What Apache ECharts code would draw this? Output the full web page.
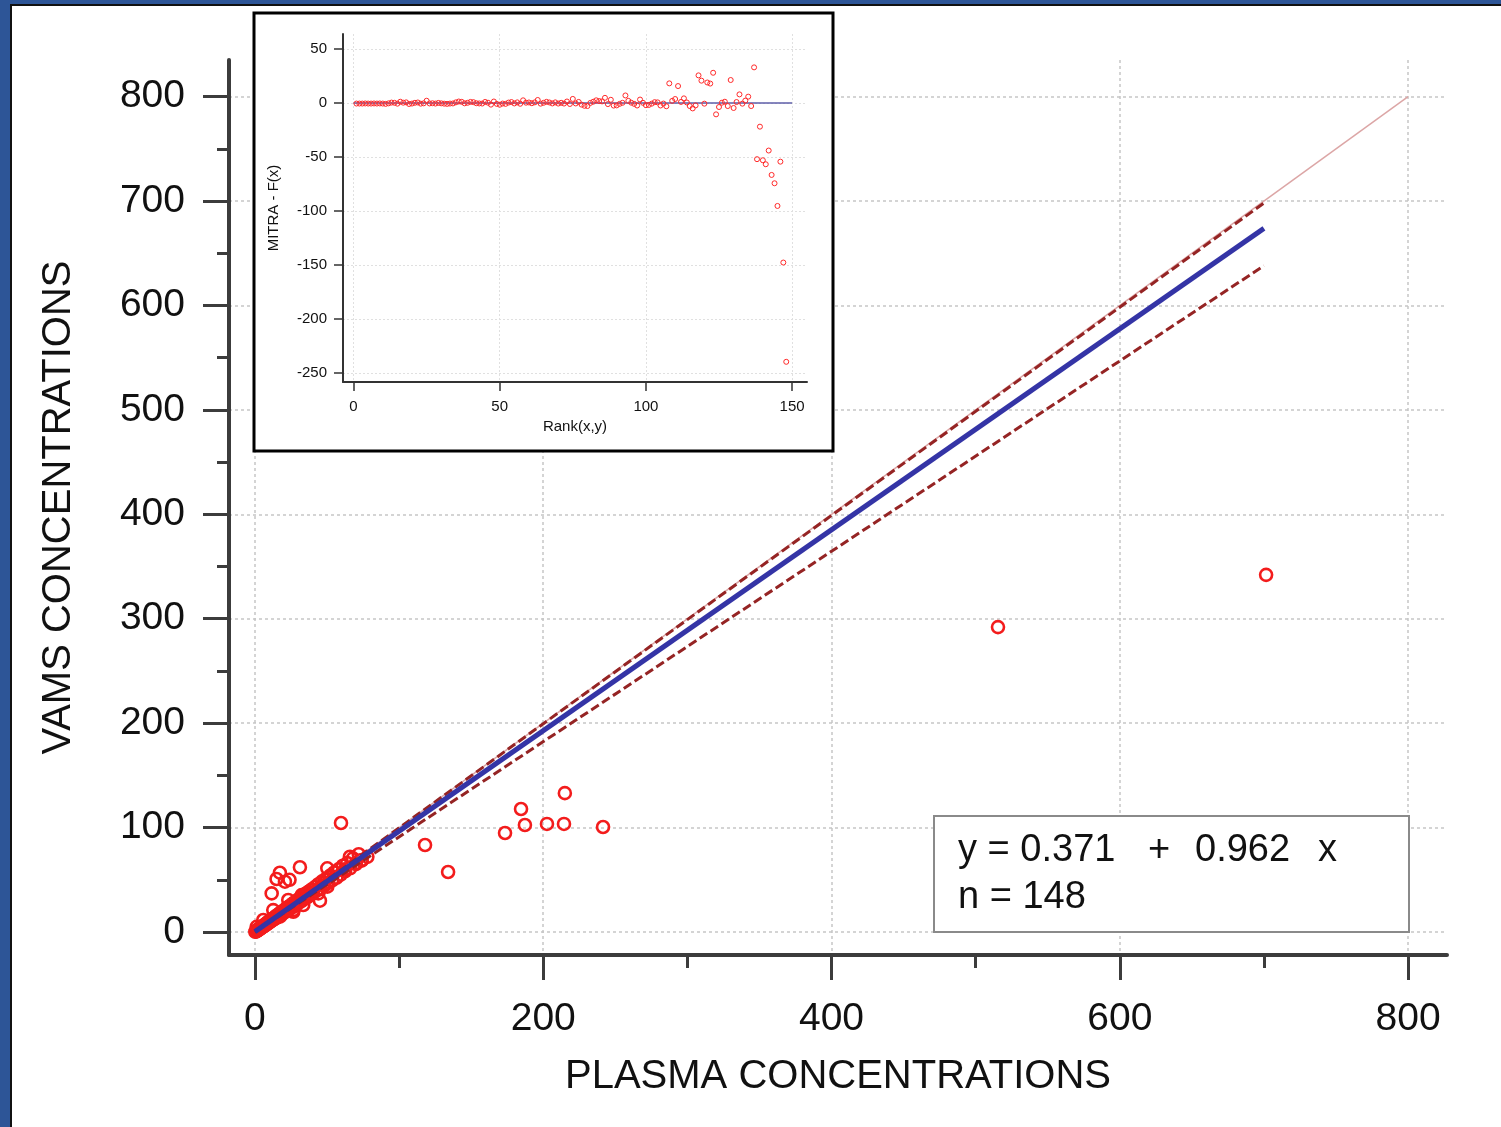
<!DOCTYPE html>
<html><head><meta charset="utf-8">
<script src="https://cdn.jsdelivr.net/npm/echarts@6/dist/echarts.min.js"></script>
<style>
html,body{margin:0;padding:0;width:1501px;height:1127px;overflow:hidden;background:#2d5597;}
#paper{position:absolute;left:10px;top:4px;right:0;bottom:0;background:#fff;border-left:2px solid #111;border-top:2px solid #111;}
#chart{position:absolute;left:0;top:0;width:1501px;height:1127px;}
</style></head><body>
<div id="paper"></div><div id="chart"></div>
<script>
const FONT = '"Liberation Sans", Arial, sans-serif';

// ---- main scatter: plasma (x) vs VAMS (y) ----
const plasmaValues = [
  515.5,701.5,59.7,118,134,173.5,184.6,187.3,202.6,214.4,215,241.5,
  31.2,17.3,15,20.8,24,11.6,50.2,65.9,74,62.4,50.2,45.1,39.3,33.5,26.6,26.6,23.1,12.7,17.3,5.8,1.2,32.4,44,48,52,70,78,
  0.5,0.8,1,1.2,1.5,1.7,2,2.2,2.5,2.8,
  3,3.2,3.5,3.8,4,4.3,4.6,5,5.3,5.6,
  6,6.3,6.7,7,7.4,7.8,8.2,8.6,9,9.4,
  9.8,10.2,10.6,11,11.5,12,12.5,13,13.5,14,
  14.5,15,15.6,16.2,16.8,17.4,18,18.6,19.2,19.8,
  20.4,21,21.7,22.4,23.1,23.8,24.5,25.2,26,26.8,
  27.6,28.4,29.2,30,31,32,33,34,35,36,
  37,38,39.2,40.4,41.6,42.8,44,45.3,46.6,48,
  49.4,50.8,52.2,53.6,55,56.5,58,59.5,61,62.5,
  64,66,68,70,72,74,1.4,4.8,0.3,
  2.4,3.6,5.8,7.6,9.6,11.8,13.8,16,19,22
];
const vamsValues = [
  292,342,104.4,83.3,57.5,94.8,117.8,102.5,103.5,103.5,133,100.6,
  62,56.8,50.8,48.2,50,37,61,72.1,68.3,60,43.4,30,40.2,25.9,19.4,21,30.7,21,14.7,11.5,5,35.4,37,47,53,66,72,
  0.6,0.7,1.1,1,1.6,1.5,2.1,1.9,2.6,2.5,
  3.2,2.9,3.6,3.4,4.2,3.9,4.7,4.6,5.5,5.2,
  6.3,5.8,6.9,6.5,7.6,7.2,8.5,7.9,9.2,8.7,
  10.3,9.4,11,10.2,11.8,11.1,13,12.1,13.8,12.8,
  15.2,13.9,16,15,17.5,16.1,18.8,17.2,19.9,18.1,
  21,19.6,22.5,20.5,24,22,25.3,23.1,27,24.6,
  28.5,26,30.3,27.8,32,29.5,34.2,31.2,36.5,33,
  38.5,35,40.6,37.2,43,39.6,45.8,41.5,48.5,44.2,
  51,47,54,49.5,57,52,60,55,63.5,58,
  66,61,70.5,65,74.5,69,1.3,4.9,0.2,
  2.3,3.5,5.6,7.3,9.3,11.4,13.3,15.4,18.3,21.2
];

// ---- fitted lines (end points) ----
const lineX = [0, 700];
const regressionY = [0.371, 673.8];
const upperBandY = [0, 698];
const lowerBandY = [0, 638];
const identityX = [0, 800];
const identityY = [0, 800];

// ---- inset: residuals by rank ----
const residuals = [
  -0.5,-0.5,-0.5,-0.4,-0.5,-0.5,-0.4,-0.5,-0.4,-0.5,
  -0.8,-0.3,0.4,0.2,-0.6,1.2,0.3,0.6,-0.9,-0.5,
  0.2,0.5,-0.6,-0.3,2.1,-0.4,-0.2,-0.5,0.1,-0.3,
  -0.6,-0.8,-0.5,-0.4,0.6,1.4,1.1,-0.3,0.2,1.0,
  0.8,-0.2,-0.4,-0.5,1.0,0.3,-1.5,1.4,-0.8,-1.6,
  -0.5,-0.8,0.4,0.9,-0.4,0.6,-0.7,2.5,0.3,0.5,
  -0.2,0.6,2.8,-0.6,0.2,1.1,0.5,-0.4,0.6,-0.5,
  0.2,-0.5,1.4,-0.9,3.8,-0.4,1.0,-1.5,-2.6,-2.8,
  0.1,1.2,2.5,1.8,1.5,4.8,-1.0,3.0,-2.4,-2.2,
  -0.8,0.2,7.0,2.0,0.3,-0.8,-2.3,3.2,0.2,-2.0,
  -1.8,-0.6,0.8,0.6,-2.3,-0.5,-3.0,18.2,2.0,3.7,
  15.7,1.0,4.3,0.5,-2.8,-5.0,-2.2,25.6,20.7,-0.6,
  19.0,18.0,28.0,-10.5,-3.7,0.3,1.2,-2.8,21.3,-4.6,
  0.9,8.0,-0.6,2.2,5.9,-2.8,33.0,-52.0,-21.9,-53.0,
  -56.7,-44.0,-66.6,-74.3,-95.3,-54.3,-147.7,-239.6
];
const insetZeroX = [0, 150];

// ---- tick values ----
const mainXTicks = [0, 200, 400, 600, 800];
const mainXMinorTicks = [100, 300, 500, 700];
const mainYTicks = [0, 100, 200, 300, 400, 500, 600, 700, 800];
const mainYMinorTicks = [50, 150, 250, 350, 450, 550, 650, 750];
const insetXTicks = [0, 50, 100, 150];
const insetYTicks = [-250, -200, -150, -100, -50, 0, 50];

// ---- equation box text ----
const equationTokens = ['y = 0.371', '+', '0.962', 'x'];
const countText = 'n = 148';

const AXC = '#3c3c3c';
const pair = (xs, ys) => xs.map((x, i) => [x, ys[i]]);

const mainAxisCommon = {
  type: 'value', gridIndex: 0, nameMoveOverlap: false,
  axisLine: { show: true, onZero: false, lineStyle: { color: AXC, width: 4 } },
  nameTextStyle: { fontSize: 40, color: '#111', fontFamily: FONT },
  nameLocation: 'middle'
};
const minorAxisCommon = {
  type: 'value', gridIndex: 0,
  axisLine: { show: false, onZero: false },
  axisLabel: { show: false },
  splitLine: { show: false }
};

const tokenX = [958, 1148, 1195, 1318];
const eqText = (t, x, y) => ({
  type: 'text', z: 51, x: x, y: y,
  style: { text: t, fontSize: 38, fontFamily: FONT, fill: '#111', verticalAlign: 'middle', align: 'left' }
});

const option = {
  animation: false,
  backgroundColor: 'transparent',
  grid: [
    { left: 229, top: 60, width: 1218, height: 895, outerBoundsMode: 'none', containLabel: false },
    { left: 343, top: 34, width: 464, height: 348, outerBoundsMode: 'none', containLabel: false, z: 60 }
  ],
  xAxis: [
    Object.assign({}, mainAxisCommon, {
      min: -18, max: 827, position: 'bottom',
      axisTick: { show: true, customValues: mainXTicks, length: 25, lineStyle: { color: AXC, width: 3 } },
      axisLabel: { customValues: mainXTicks, margin: 45, fontSize: 39, color: '#111', fontFamily: FONT },
      splitLine: { show: true, lineStyle: { color: '#c6c6c6', type: [3, 3], width: 1.5 } },
      name: 'PLASMA CONCENTRATIONS', nameGap: 102
    }),
    Object.assign({}, minorAxisCommon, {
      min: -18, max: 827, position: 'bottom',
      axisTick: { show: true, customValues: mainXMinorTicks, length: 13, lineStyle: { color: AXC, width: 3 } }
    }),
    {
      type: 'value', gridIndex: 1, min: -3.6, max: 155.1, position: 'bottom', z: 60, nameMoveOverlap: false,
      axisLine: { show: true, onZero: false, lineStyle: { color: '#333', width: 2 } },
      axisTick: { show: true, customValues: insetXTicks, length: 9, lineStyle: { color: '#333', width: 1.5 } },
      axisLabel: { customValues: insetXTicks, margin: 17, fontSize: 15, color: '#111', fontFamily: FONT },
      splitLine: { show: true, lineStyle: { color: '#e0e0e0', type: [2, 2], width: 1 } },
      name: 'Rank(x,y)', nameLocation: 'middle', nameGap: 37,
      nameTextStyle: { fontSize: 15, color: '#111', fontFamily: FONT }
    }
  ],
  yAxis: [
    Object.assign({}, mainAxisCommon, {
      min: -22, max: 835, position: 'left',
      axisTick: { show: true, customValues: mainYTicks, length: 26, lineStyle: { color: AXC, width: 3 } },
      axisLabel: { customValues: mainYTicks, margin: 44, fontSize: 39, color: '#111', fontFamily: FONT },
      splitLine: { show: true, lineStyle: { color: '#c6c6c6', type: [3, 3], width: 1.5 } },
      name: 'VAMS CONCENTRATIONS', nameGap: 150
    }),
    Object.assign({}, minorAxisCommon, {
      min: -22, max: 835, position: 'left',
      axisTick: { show: true, customValues: mainYMinorTicks, length: 12, lineStyle: { color: AXC, width: 3 } }
    }),
    {
      type: 'value', gridIndex: 1, min: -258.3, max: 63.9, position: 'left', z: 60, nameMoveOverlap: false,
      axisLine: { show: true, onZero: false, lineStyle: { color: '#333', width: 2 } },
      axisTick: { show: true, customValues: insetYTicks, length: 9, lineStyle: { color: '#333', width: 1.5 } },
      axisLabel: { customValues: insetYTicks, margin: 16, fontSize: 15, color: '#111', fontFamily: FONT },
      splitLine: { show: true, lineStyle: { color: '#e0e0e0', type: [2, 2], width: 1 } },
      name: 'MITRA - F(x)', nameLocation: 'middle', nameGap: 62,
      nameTextStyle: { fontSize: 15, color: '#111', fontFamily: FONT }
    }
  ],
  series: [
    {
      type: 'scatter', xAxisIndex: 0, yAxisIndex: 0, z: 3,
      data: pair(plasmaValues, vamsValues),
      symbol: 'circle', symbolSize: 12,
      itemStyle: { color: 'rgba(0,0,0,0)', borderColor: '#f31c1c', borderWidth: 2.6, opacity: 1 }
    },
    {
      type: 'line', xAxisIndex: 0, yAxisIndex: 0, z: 4, symbol: 'none',
      data: pair(identityX, identityY),
      lineStyle: { color: '#dca6a6', width: 1.5 }
    },
    {
      type: 'line', xAxisIndex: 0, yAxisIndex: 0, z: 5, symbol: 'none',
      data: pair(lineX, upperBandY),
      lineStyle: { color: '#952424', width: 3, type: [9, 4] }
    },
    {
      type: 'line', xAxisIndex: 0, yAxisIndex: 0, z: 5, symbol: 'none',
      data: pair(lineX, lowerBandY),
      lineStyle: { color: '#952424', width: 3, type: [9, 4] }
    },
    {
      type: 'line', xAxisIndex: 0, yAxisIndex: 0, z: 6, symbol: 'none',
      data: pair(lineX, regressionY),
      lineStyle: { color: '#3434a6', width: 5 }
    },
    {
      type: 'line', xAxisIndex: 2, yAxisIndex: 2, z: 61, symbol: 'none',
      data: pair(insetZeroX, [0, 0]),
      lineStyle: { color: '#5e5ea8', width: 1.5 }
    },
    {
      type: 'scatter', xAxisIndex: 2, yAxisIndex: 2, z: 62,
      data: residuals.map((v, i) => [i + 1, v]),
      symbol: 'circle', symbolSize: 5,
      itemStyle: { color: 'rgba(0,0,0,0)', borderColor: '#ff2a2a', borderWidth: 1, opacity: 1 }
    }
  ],
  graphic: [
    { type: 'rect', z: 50, shape: { x: 254, y: 13, width: 579, height: 438 },
      style: { fill: '#fff', stroke: '#000', lineWidth: 3 } },
    { type: 'rect', z: 50, shape: { x: 934, y: 816, width: 475, height: 116 },
      style: { fill: '#fff', stroke: '#8a8a8a', lineWidth: 2 } }
  ].concat(equationTokens.map((t, i) => eqText(t, tokenX[i], 851)))
   .concat([eqText(countText, 958, 898)])
};

const chart = echarts.init(document.getElementById('chart'), null, { renderer: 'canvas' });
chart.setOption(option);
</script></body></html>
